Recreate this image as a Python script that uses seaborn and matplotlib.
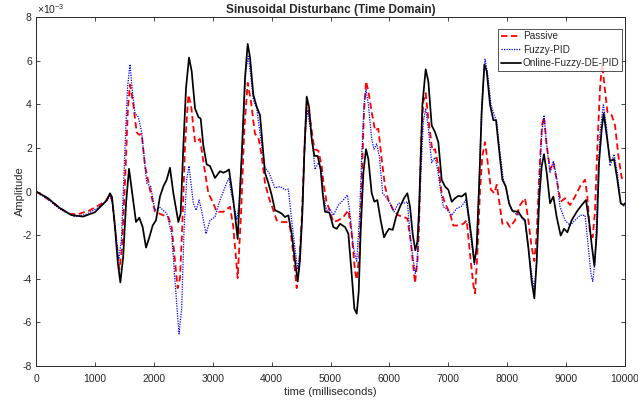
import matplotlib
matplotlib.use("Agg")
import matplotlib.pyplot as plt
import seaborn as sns
import numpy as np
import pandas as pd
from matplotlib.ticker import FuncFormatter

# ---- data (values in units of 1e-3) ----
passive_t = [0, 200, 400, 560, 700, 900, 1100, 1200, 1257, 1300, 1360, 1415, 1460, 1520, 1560, 1596,
             1653, 1709, 1750, 1794, 1851, 1936, 2020, 2162, 2247, 2303, 2360, 2405, 2445, 2485, 2530,
             2587, 2632, 2700, 2785, 2853, 2926, 3011, 3067, 3180, 3294, 3350, 3424, 3481, 3537, 3594,
             3650, 3718, 3775, 3832, 3888, 3956, 4030, 4086, 4171, 4256, 4313, 4369, 4426, 4466, 4511,
             4567, 4601, 4652, 4726, 4794, 4850, 4880, 4930, 4964, 5048, 5133, 5218, 5303, 5360, 5416,
             5445, 5490, 5530, 5569, 5603, 5643, 5699, 5756, 5812, 5869, 5926, 5982, 6067, 6152, 6237,
             6305, 6361, 6435, 6475, 6500, 6537, 6576, 6616, 6661, 6729, 6775, 6831, 6888, 6944, 7029,
             7086, 7171, 7256, 7312, 7369, 7425, 7454, 7493, 7539, 7578, 7624, 7669, 7725, 7782, 7822,
             7861, 7918, 7991, 8048, 8133, 8218, 8303, 8359, 8416, 8461, 8501, 8546, 8591, 8625, 8671,
             8727, 8784, 8840, 8908, 8982, 9067, 9152, 9237, 9322, 9361, 9406, 9452, 9491, 9537, 9576,
             9610, 9650, 9701, 9774, 9831, 9888, 9944, 10000]
passive_v = [0, -0.35, -0.75, -1.02, -1.05, -0.88, -0.58, -0.38, -0.12, -0.5, -2.2, -3.58, -2.6, 1.0, 3.8, 4.9,
             3.97, 2.72, 2.6, 2.64, 1.17, 0.08, -0.93, -1.09, -1.17, -1.63, -3.19, -4.43, -3.97, -1.48, 2.1,
             4.43, 3.97, 2.26, 2.41, 1.17, -0.08, -0.54, -0.93, -0.93, -0.7, -1.63, -3.97, -1.01, 2.88, 4.98,
             4.12, 2.64, 2.49, 1.63, 0.39, -0.31, -0.86, -1.32, -1.4, -1.4, -1.63, -2.88, -4.43, -3.5, -1.32,
             2.57, 4.12, 3.34, 1.94, 1.87, 1.17, 0.4, -0.45, -0.7, -1.4, -1.32, -1.17, -0.86, -1.94, -3.65,
             -4.04, -2.88, 0.54, 3.65, 5.05, 4.59, 3.65, 2.8, 2.88, 1.48, 0.23, -0.39, -0.86, -1.09, -1.17,
             -1.24, -2.26, -4.2, -3.2, -1.9, 2.1, 4.12, 4.51, 3.34, 1.87, 1.94, 1.17, -0.08, -0.54, -1.01,
             -1.56, -1.56, -1.48, -1.32, -2.88, -4.28, -4.67, -2.88, 0.08, 1.63, 2.26, 1.32, 0.08, -0.08, 0.31,
             -0.39, -1.48, -1.4, -1.63, -1.32, -0.62, -0.31, -1.32, -2.57, -3.19, -1.94, 0.86, 3.03, 3.42, 2.1,
             1.01, 1.32, 0.54, -0.47, -0.31, -0.62, -0.23, 0.23, 0.54, -0.23, -1.94, -2.1, -0.86, 2.41, 4.74,
             5.83, 4.9, 3.65, 3.5, 3.03, 1.63, 0.62, 0.54]

fuzzy_t = [0, 200, 400, 650, 850, 1050, 1200, 1257, 1300, 1360, 1405, 1450, 1510, 1555, 1596, 1640, 1681,
           1737, 1794, 1879, 1947, 2020, 2105, 2219, 2303, 2360, 2428, 2473, 2513, 2558, 2598, 2671, 2720,
           2768, 2810, 2887, 2954, 3039, 3124, 3237, 3277, 3310, 3350, 3410, 3450, 3500, 3560, 3605, 3650,
           3690, 3747, 3832, 3888, 3956, 4058, 4143, 4228, 4284, 4341, 4409, 4443, 4480, 4528, 4567, 4601,
           4652, 4709, 4737, 4794, 4850, 4879, 4935, 4992, 5048, 5133, 5218, 5286, 5331, 5388, 5445, 5490,
           5530, 5569, 5603, 5643, 5699, 5739, 5784, 5829, 5886, 5954, 6011, 6078, 6152, 6237, 6305, 6350,
           6407, 6440, 6470, 6500, 6535, 6576, 6616, 6661, 6718, 6775, 6820, 6860, 6916, 6973, 7058, 7142,
           7227, 7295, 7341, 7397, 7442, 7482, 7527, 7567, 7624, 7669, 7725, 7782, 7822, 7878, 7935, 7991,
           8048, 8133, 8218, 8303, 8359, 8416, 8461, 8501, 8546, 8586, 8625, 8671, 8727, 8784, 8840, 8897,
           8982, 9067, 9152, 9237, 9322, 9378, 9423, 9452, 9491, 9531, 9576, 9633, 9689, 9746, 9814, 9870,
           9927, 10000]
fuzzy_v = [0, -0.35, -0.8, -1.15, -1.05, -0.75, -0.45, -0.1, -0.6, -2.0, -3.1, -2.2, 2.0, 4.8, 5.83, 4.5, 3.58,
           3.42, 2.72, 0.39, 0.23, -0.86, -0.73, -1.0, -1.94, -4.1, -6.53, -5.37, -1.79, 0.54, 1.17, -0.54, -0.86,
           -0.39, -0.86, -1.94, -1.32, -1.17, -0.39, 0.39, 0.62, 0.0, -0.54, -1.3, -0.5, 2.0, 5.5, 6.2, 5.2,
           4.2, 3.81, 2.1, 1.09, 0.86, 0.16, 0.23, 0.08, 0.11, -1.32, -2.88, -3.58, -2.88, -0.54, 2.41, 3.73,
           3.03, 1.79, 1.01, 1.32, 0.86, -0.23, -0.86, -0.78, -1.09, -0.62, -0.39, -0.16, -1.01, -2.57, -3.19, -1.32,
           1.63, 3.97, 4.67, 3.97, 2.41, 1.94, 2.18, 1.63, -0.08, -0.31, -0.54, -0.93, -0.54, -0.54, -0.47, -1.94,
           -3.19, -3.75, -3.3, -1.5, 0.8, 3.19, 3.81, 2.88, 1.32, 1.56, 1.01, 0.23, -0.7, -0.81, -1.09, -0.78,
           -0.67, -0.39, -1.17, -2.41, -3.34, -2.41, 0.86, 3.97, 6.07, 5.37, 3.97, 3.5, 3.19, 1.79, 0.54, 0.08,
           -0.7, -1.01, -1.09, -1.4, -2.57, -3.81, -4.51, -3.19, 0.54, 2.72, 3.5, 2.1, 0.86, 1.4, 0.62, -0.7,
           -1.32, -1.56, -1.32, -1.09, -1.09, -2.57, -3.81, -4.12, -3.19, -0.23, 2.72, 3.97, 2.88, 1.17, 1.71, 0.86,
           -0.54, -0.7]

online_t = [0, 200, 400, 600, 800, 1000, 1130, 1200, 1257, 1290, 1340, 1390, 1432, 1480, 1530, 1579, 1620,
            1698, 1754, 1811, 1868, 1924, 1981, 2037, 2105, 2162, 2219, 2275, 2332, 2417, 2456, 2502, 2547,
            2598, 2643, 2700, 2756, 2796, 2841, 2898, 2954, 3039, 3124, 3180, 3237, 3277, 3350, 3424, 3492,
            3549, 3594, 3634, 3690, 3747, 3803, 3843, 3888, 3945, 4001, 4058, 4115, 4171, 4228, 4284, 4341,
            4398, 4443, 4480, 4522, 4556, 4596, 4635, 4681, 4726, 4782, 4833, 4867, 4907, 4980, 5048, 5105,
            5162, 5247, 5303, 5360, 5405, 5445, 5479, 5513, 5558, 5603, 5643, 5699, 5745, 5795, 5852, 5909,
            5954, 5994, 6056, 6112, 6180, 6248, 6305, 6350, 6395, 6440, 6475, 6500, 6520, 6560, 6616, 6661,
            6718, 6775, 6831, 6888, 6944, 7001, 7058, 7114, 7171, 7227, 7295, 7341, 7397, 7442, 7482, 7527,
            7567, 7612, 7652, 7709, 7765, 7810, 7861, 7918, 7975, 8031, 8088, 8190, 8246, 8303, 8359, 8416,
            8461, 8501, 8546, 8586, 8625, 8671, 8727, 8784, 8840, 8908, 8965, 9021, 9095, 9180, 9265, 9338,
            9395, 9440, 9480, 9520, 9559, 9605, 9638, 9689, 9746, 9814, 9870, 9927, 9972, 10000]
online_v = [0, -0.3, -0.75, -1.08, -1.15, -0.95, -0.6, -0.4, -0.08, -0.25, -1.6, -3.3, -4.17, -3.0, -0.5, 1.04, 0.2,
            -1.4, -1.2, -1.63, -2.57, -2.1, -1.56, -1.32, -0.23, 0.23, 0.54, 1.09, -0.08, -1.4, -1.01, 2.1, 4.74,
            6.14, 5.52, 3.81, 3.42, 3.34, 2.1, 1.24, 1.17, 0.62, 0.93, 0.86, 0.93, 1.01, -0.39, -2.18, 1.63,
            5.21, 6.77, 6.14, 4.43, 3.89, 3.5, 2.26, 0.86, 0.39, -0.16, -0.86, -0.93, -1.01, -1.17, -1.09, -1.94,
            -3.19, -4.12, -3.19, -1.01, 1.79, 4.35, 3.89, 2.41, 1.63, 1.63, 1.01, -0.08, -0.93, -0.96, -1.63, -1.71,
            -1.48, -1.63, -1.94, -3.81, -5.37, -5.6, -4.59, -1.79, 0.86, 1.94, 1.48, -0.08, -0.47, -0.39, -1.32, -2.1,
            -1.87, -1.71, -1.76, -1.17, -0.7, -0.31, -0.08, -0.7, -1.94, -2.7, -2.3, -1.0, 0.6, 3.97, 5.6, 5.05,
            3.03, 2.72, 2.26, 0.54, 0.23, 0.08, -0.47, -0.31, -0.2, -0.23, -0.08, -1.01, -2.18, -3.27, -2.57, 0.54,
            3.65, 5.83, 5.52, 3.97, 3.27, 3.27, 1.94, 0.54, 0.23, -0.54, -0.89, -0.93, -1.17, -1.32, -2.57, -4.12,
            -4.9, -3.19, -0.23, 1.17, 1.71, 0.86, -0.54, -0.23, -1.17, -2.02, -1.71, -1.87, -1.32, -0.93, -0.62, -0.39,
            -1.48, -2.57, -3.42, -1.94, 1.32, 2.88, 3.58, 2.57, 1.4, 1.48, 0.54, -0.54, -0.62, -0.54]

series_names = ["Passive", "Fuzzy-PID", "Online-Fuzzy-DE-PID"]
x_ticks = [0, 1000, 2000, 3000, 4000, 5000, 6000, 7000, 8000, 9000, 10000]
y_ticks = [-8, -6, -4, -2, 0, 2, 4, 6, 8]

# ---- style ----
sns.set_style("ticks")
plt.rcParams["font.family"] = ["Liberation Sans", "DejaVu Sans"]
plt.rcParams["axes.unicode_minus"] = False
plt.rcParams["xtick.direction"] = "in"
plt.rcParams["ytick.direction"] = "in"
plt.rcParams["mathtext.fontset"] = "custom"
plt.rcParams["mathtext.rm"] = "Liberation Sans"

fig = plt.figure(figsize=(6.38, 4.05), dpi=100)
ax = fig.add_axes([36 / 638, 1 - 366 / 405, (625 - 36) / 638, (366 - 17) / 405])

dfs = [
    pd.DataFrame({"t": passive_t, "v": np.array(passive_v) * 1e-3}),
    pd.DataFrame({"t": fuzzy_t, "v": np.array(fuzzy_v) * 1e-3}),
    pd.DataFrame({"t": online_t, "v": np.array(online_v) * 1e-3}),
]
styles = [
    dict(color="#ff0000", linestyle=(0, (3.5, 2)), linewidth=1.3),
    dict(color="#0000ff", linestyle=(0, (1, 1)), linewidth=0.9),
    dict(color="#000000", linestyle="-", linewidth=1.25),
]
for df, name, st in zip(dfs, series_names, styles):
    sns.lineplot(data=df, x="t", y="v", ax=ax, label=name, estimator=None, **st)

ax.set_xlim(0, 10000)
ax.set_ylim(-8e-3, 8e-3)
ax.set_xticks(x_ticks)
ax.set_yticks([y * 1e-3 for y in y_ticks])
ax.yaxis.set_major_formatter(FuncFormatter(lambda v, p: f"{round(v * 1e3):d}"))
ax.text(0.0015, 1.004, r"$\times10^{-3}$", transform=ax.transAxes, fontsize=7.5,
        ha="left", va="bottom", color="#262626")
ax.tick_params(axis="both", which="both", top=True, right=True, labelsize=7.5,
               length=3, width=0.6, colors="#262626")
ax.tick_params(axis="x", pad=6)
ax.tick_params(axis="y", pad=3)
for s in ax.spines.values():
    s.set_visible(True)
    s.set_linewidth(0.7)
    s.set_color("#262626")

ax.set_title("Sinusoidal Disturbanc (Time Domain)", fontsize=8.5, fontweight="bold", pad=3)
ax.set_xlabel("time (milliseconds)", fontsize=8, labelpad=2)
ax.set_ylabel("Amplitude", fontsize=8, labelpad=-1.5)

leg = ax.legend(loc="upper right", bbox_to_anchor=(0.995, 0.966), borderaxespad=0,
                fontsize=7.2, frameon=True, fancybox=False, handlelength=2.0,
                borderpad=0.25, labelspacing=0.35, handletextpad=0.2)
leg.get_frame().set_edgecolor("#262626")
leg.get_frame().set_linewidth(0.7)

fig.savefig("out.png", dpi=100)
